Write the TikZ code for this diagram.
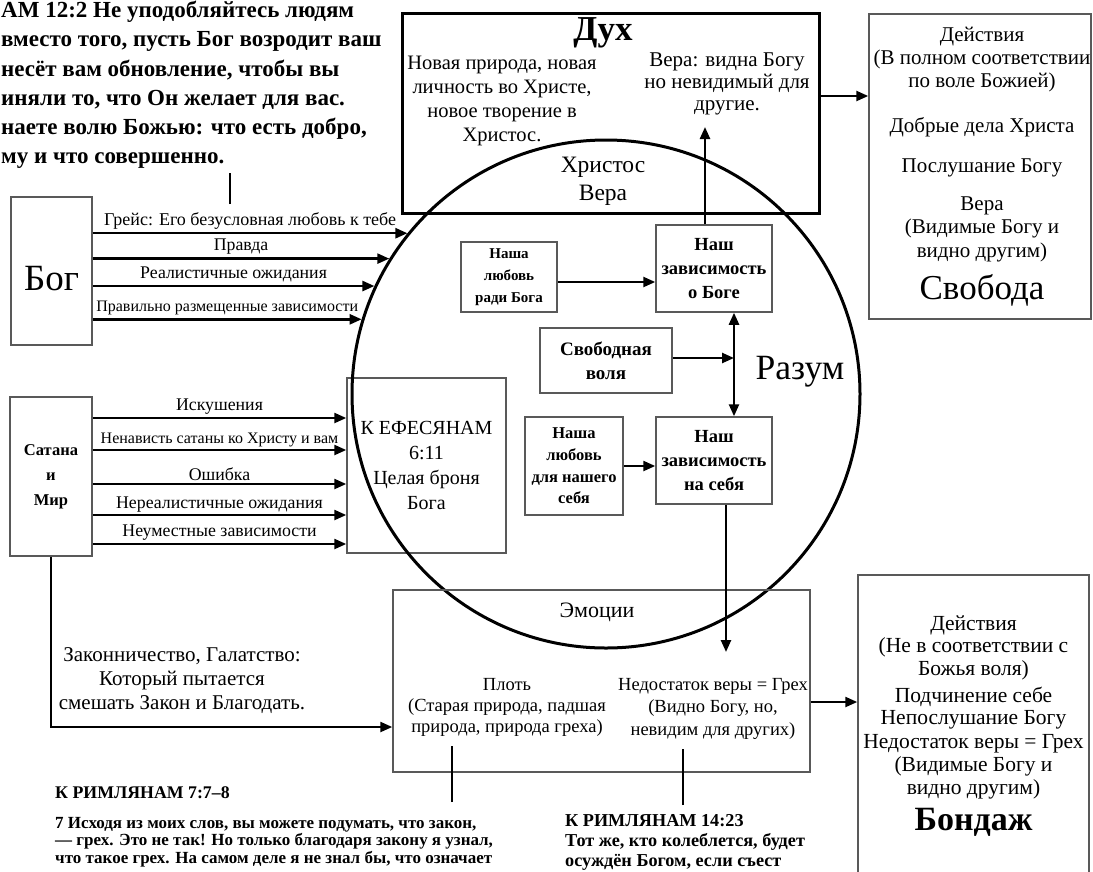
\documentclass[tikz,border=0pt]{standalone}
\usepackage{fontspec}
\setmainfont{Liberation Serif}
\usetikzlibrary{arrows.meta}
\newcommand{\fsize}[2]{\fontsize{#1}{#2}\selectfont}

\begin{document}
\begin{tikzpicture}[x=1pt,y=-1pt,
  box/.style={draw=black!65,line width=1.5pt,inner sep=0pt},
  inbox/.style={box,align=center,font=\bfseries\fsize{18.5}{24}},
  arr/.style={line width=2.4pt,-{Triangle[length=12pt,width=10pt]}},
  dbl/.style={line width=2.4pt,{Triangle[length=12pt,width=10pt]}-{Triangle[length=12pt,width=10pt]}},
  pinline/.style={line width=2pt},
  lbl/.style={font=\fsize{17.8}{20},inner sep=0pt},
  txt/.style={align=center,inner sep=0pt,font=\fsize{21}{23}}]

\useasboundingbox (0,0) rectangle (1093,871);
\clip (0,0) rectangle (1093,871);

\node[anchor=west,align=left,inner sep=0pt,font=\bfseries\fsize{23}{29.2}] (romTwelve) at (1,85) {АМ 12:2 Не уподобляйтесь людям\\вместо того, пусть Бог возродит ваш\\несёт вам обновление, чтобы вы\\иняли то, что Он желает для вас.\\наете волю Божью: что есть добро,\\му и что совершенно.};

\node[box,minimum width=81pt,minimum height=148pt,text height=39pt,font=\fsize{37}{40}] (god) at (51.5,271) {Бог};
\node[box,minimum width=82pt,minimum height=159pt,align=center,font=\bfseries\fsize{16.5}{25}] (satan) at (51,476.5) {Сатана\\и\\Мир};

\node[draw,line width=3pt,minimum width=417pt,minimum height=200pt] (spirit) at (610.5,113) {};
\node[font=\bfseries\fsize{35}{38},inner sep=0pt] (spiritName) at (603,33) {Дух};
\node[txt,font=\fsize{20.5}{24}] (newNature) at (502,101) {Новая природа, новая\\личность во Христе,\\новое творение в\\Христос.};
\node[txt,font=\fsize{21}{22}] (faithSeen) at (727,84) {Вера: видна Богу\\но невидимый для\\другие.};

\node[box,minimum width=222pt,minimum height=305pt] (freedom) at (980,166.5) {};
\node[txt] (actsGood) at (982,60) {Действия\\(В полном соответствии\\по воле Божией)};
\node[txt] (goodWorks) at (982,127) {Добрые дела Христа};
\node[txt] (obey) at (982,168) {Послушание Богу};
\node[txt,font=\fsize{21}{23.5}] (faithVis) at (982,229) {Вера\\(Видимые Богу и\\видно другим)};
\node[txt,font=\fsize{35}{40}] (freeWord) at (982,290) {Свобода};

\node[box,align=center,minimum width=159pt,minimum height=175pt,font=\fsize{20}{25}] (armor) at (426.5,465.5) {К ЕФЕСЯНАМ\\6:11\\Целая броня\\Бога};

\node[draw,circle,line width=3pt,minimum size=508pt,inner sep=0pt] (mind) at (606,394) {};
\node[txt,font=\fsize{23.5}{28}] (christ) at (603,181) {Христос\\Вера};
\node[txt,font=\fsize{35.5}{38}] (reason) at (800,372) {Разум};

\node[inbox,minimum width=96pt,minimum height=70pt,font=\bfseries\fsize{15}{22}] (loveGod) at (509,277) {Наша\\любовь\\ради Бога};
\node[inbox,minimum width=116pt,minimum height=87pt] (depGod) at (714,268.5) {Наш\\зависимость\\о Боге};
\node[inbox,minimum width=132pt,minimum height=65pt,font=\bfseries\fsize{19}{24}] (freeWill) at (606,360.5) {Свободная\\воля};
\node[inbox,minimum width=98pt,minimum height=98pt,font=\bfseries\fsize{16.5}{21.7}] (loveSelf) at (574,466) {Наша\\любовь\\для нашего\\себя};
\node[inbox,minimum width=116pt,minimum height=87pt] (depSelf) at (714,460.5) {Наш\\зависимость\\на себя};

\node[box,minimum width=417pt,minimum height=182pt] (emotions) at (601.5,681) {};
\node[txt,font=\fsize{22}{24}] (emoName) at (597,612) {Эмоции};
\node[txt,font=\fsize{18.5}{21}] (flesh) at (507,707) {Плоть\\(Старая природа, падшая\\природа, природа греха)};
\node[txt,font=\fsize{18.5}{22.5}] (lackFaith) at (713,708.5) {Недостаток веры = Грех\\(Видно Богу, но,\\невидим для других)};

\node[box,minimum width=231pt,minimum height=330pt] (bondage) at (973.5,740) {};
\node[txt,font=\fsize{21.5}{22.5}] (actsBad) at (973.5,647.5) {Действия\\(Не в соответствии с\\Божья воля)};
\node[txt,font=\fsize{21.5}{22}] (selfSubmit) at (973.5,708) {Подчинение себе\\Непослушание Богу};
\node[txt,font=\fsize{21.5}{23}] (lackVis) at (973.5,767) {Недостаток веры = Грех\\(Видимые Богу и\\видно другим)};
\node[txt,font=\bfseries\fsize{34}{38}] (bondWord) at (973.5,822) {Бондаж};

\node[txt,font=\fsize{21}{24}] (legal) at (182,681) {Законничество, Галатство:\\Который пытается\\смешать Закон и Благодать.};

\node[anchor=west,inner sep=0pt,font=\bfseries\fsize{17.8}{20}] (romSevenHead) at (55,793) {К РИМЛЯНАМ 7:7–8};
\node[anchor=west,align=left,inner sep=0pt,font=\bfseries\fsize{17}{17.5}] (romSeven) at (55,842) {7 Исходя из моих слов, вы можете подумать, что закон,\\— грех. Это не так! Но только благодаря закону я узнал,\\что такое грех. На самом деле я не знал бы, что означает};
\node[anchor=west,inner sep=0pt,font=\bfseries\fsize{18.2}{20}] (romFourteenHead) at (565,821) {К РИМЛЯНАМ 14:23};
\node[anchor=west,align=left,inner sep=0pt,font=\bfseries\fsize{18.2}{20.5}] (romFourteen) at (565,852) {Тот же, кто колеблется, будет\\осуждён Богом, если съест};

\coordinate (gracePin) at (230,204);
\coordinate (faithTip) at (705,127);
\coordinate (willJoin) at (734,358);
\coordinate (sinTip) at (726,652);
\coordinate (fleshPin) at (452,802);
\coordinate (lackPin) at (683,805);

\draw[arr] (god.east |- mind.141.5) -- (mind.141.5) node[lbl,midway,above=3pt,font=\fsize{18}{20}] (lGrace) {Грейс: Его безусловная любовь к тебе};
\draw[arr] (god.east |- mind.148.2) -- (mind.148.2) node[lbl,midway,above=3pt] (lTruth) {Правда};
\draw[arr] (god.east |- mind.155.6) -- (mind.155.6) node[lbl,midway,above=3pt] (lReal) {Реалистичные ожидания};
\draw[arr] (god.east |- mind.163.8) -- (mind.163.8) node[lbl,midway,above=3pt,font=\fsize{16}{20}] (lRight) {Правильно размещенные зависимости};

\draw[arr] ([yshift=58.5pt]satan.east) -- ([yshift=58.5pt]satan.east -| armor.west) node[lbl,midway,above=2pt] (lTempt) {Искушения};
\draw[arr] ([yshift=26.5pt]satan.east) -- ([yshift=26.5pt]satan.east -| armor.west) node[lbl,midway,above=2pt,font=\fsize{16}{20}] (lHate) {Ненависть сатаны ко Христу и вам};
\draw[arr] ([yshift=-7.5pt]satan.east) -- ([yshift=-7.5pt]satan.east -| armor.west) node[lbl,midway,above=2pt] (lError) {Ошибка};
\draw[arr] ([yshift=-38.5pt]satan.east) -- ([yshift=-38.5pt]satan.east -| armor.west) node[lbl,midway,above=2pt] (lUnreal) {Нереалистичные ожидания};
\draw[arr] ([yshift=-67.5pt]satan.east) -- ([yshift=-67.5pt]satan.east -| armor.west) node[lbl,midway,above=2pt] (lWrong) {Неуместные зависимости};

\draw[arr] ([yshift=-5pt]loveGod.east) -- ([yshift=-5pt]loveGod.east -| depGod.west);
\draw[arr] (depGod.north -| faithTip) -- (faithTip);
\draw[dbl] (depGod.south -| willJoin) -- (depSelf.north -| willJoin);
\draw[arr] (freeWill.east |- willJoin) -- (willJoin);
\draw[arr] (loveSelf.east) -- (loveSelf.east -| depSelf.west);
\draw[arr] (depSelf.south -| sinTip) -- (sinTip);

\draw[arr] ([yshift=17pt]spirit.east) -- ([yshift=17pt]spirit.east -| freedom.west);
\draw[arr] ([yshift=-21pt]emotions.east) -- ([yshift=-21pt]emotions.east -| bondage.west);
\draw[arr] (satan.south) |- ([yshift=-46pt]emotions.west);

\draw[pinline,shorten >=4pt] (gracePin) -- (gracePin |- romTwelve.south);
\draw[pinline,shorten >=10pt] (fleshPin) -- (fleshPin |- flesh.south);
\draw[pinline,shorten >=10pt] (lackPin) -- (lackPin |- lackFaith.south);
\end{tikzpicture}
\end{document}
